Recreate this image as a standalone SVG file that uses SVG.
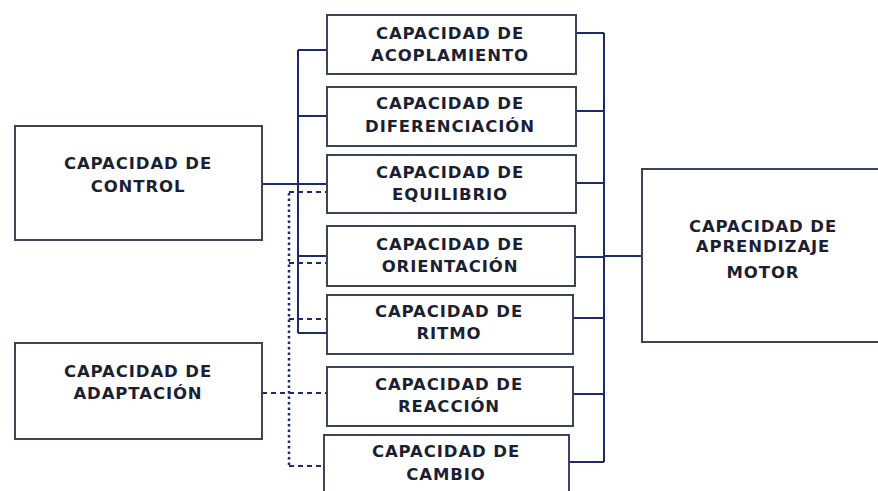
<svg xmlns="http://www.w3.org/2000/svg" width="878" height="491" viewBox="0 0 878 491">
<style>
.box{fill:#ffffff;stroke:#3a4658;stroke-width:2}
.t{font-family:"DejaVu Sans",Verdana,sans-serif;font-weight:bold;font-size:16.5px;letter-spacing:0.9px;fill:#1c1f33;text-anchor:middle}
.s{fill:none;stroke:#1e2a6e;stroke-width:2}
.d{fill:none;stroke:#1e2a6e;stroke-width:2;stroke-dasharray:5 4}
.o{fill:none;stroke:#1e2a6e;stroke-width:2.5;stroke-dasharray:2.5 3}
</style>
<rect width="878" height="491" fill="#ffffff"/>
<g id="connectors">
<path class="s" d="M298 50V333M298 50H327M298 116H327M262 184H327M298 256H327M298 333H327"/>
<path class="o" d="M289 193V466"/>
<path class="d" d="M289 192H327M289 263H327M289 319H327M262 393H327M289 466H324"/>
<path class="s" d="M604 33V462M576 33H604M576 111H604M576 183H604M575 257H604M573 318H604M573 394H604M569 462H604M604 256H642"/>
</g>
<g id="control"><rect class="box" x="15" y="126" width="247" height="114"/><text class="t" x="138" y="169">CAPACIDAD DE</text><text class="t" x="138" y="192">CONTROL</text></g>
<g id="adaptacion"><rect class="box" x="15" y="343" width="247" height="96"/><text class="t" x="138" y="377">CAPACIDAD DE</text><text class="t" x="138" y="399">ADAPTACIÓN</text></g>
<g id="acoplamiento"><rect class="box" x="327" y="15" width="249" height="59"/><text class="t" x="450" y="39">CAPACIDAD DE</text><text class="t" x="450" y="61">ACOPLAMIENTO</text></g>
<g id="diferenciacion"><rect class="box" x="327" y="87" width="249" height="59"/><text class="t" x="450" y="109">CAPACIDAD DE</text><text class="t" x="450" y="132">DIFERENCIACIÓN</text></g>
<g id="equilibrio"><rect class="box" x="327" y="155" width="249" height="58"/><text class="t" x="450" y="178">CAPACIDAD DE</text><text class="t" x="450" y="200">EQUILIBRIO</text></g>
<g id="orientacion"><rect class="box" x="327" y="226" width="248" height="60"/><text class="t" x="450" y="250">CAPACIDAD DE</text><text class="t" x="450" y="272">ORIENTACIÓN</text></g>
<g id="ritmo"><rect class="box" x="327" y="295" width="246" height="59"/><text class="t" x="449" y="317">CAPACIDAD DE</text><text class="t" x="449" y="339">RITMO</text></g>
<g id="reaccion"><rect class="box" x="327" y="367" width="246" height="59"/><text class="t" x="449" y="390">CAPACIDAD DE</text><text class="t" x="449" y="412">REACCIÓN</text></g>
<g id="cambio"><rect class="box" x="324" y="435" width="245" height="70"/><text class="t" x="446" y="457">CAPACIDAD DE</text><text class="t" x="446" y="480">CAMBIO</text></g>
<g id="aprendizaje"><rect class="box" x="642" y="169" width="240" height="173"/><text class="t" x="763" y="232">CAPACIDAD DE</text><text class="t" x="763" y="252">APRENDIZAJE</text><text class="t" x="763" y="278">MOTOR</text></g>
</svg>
